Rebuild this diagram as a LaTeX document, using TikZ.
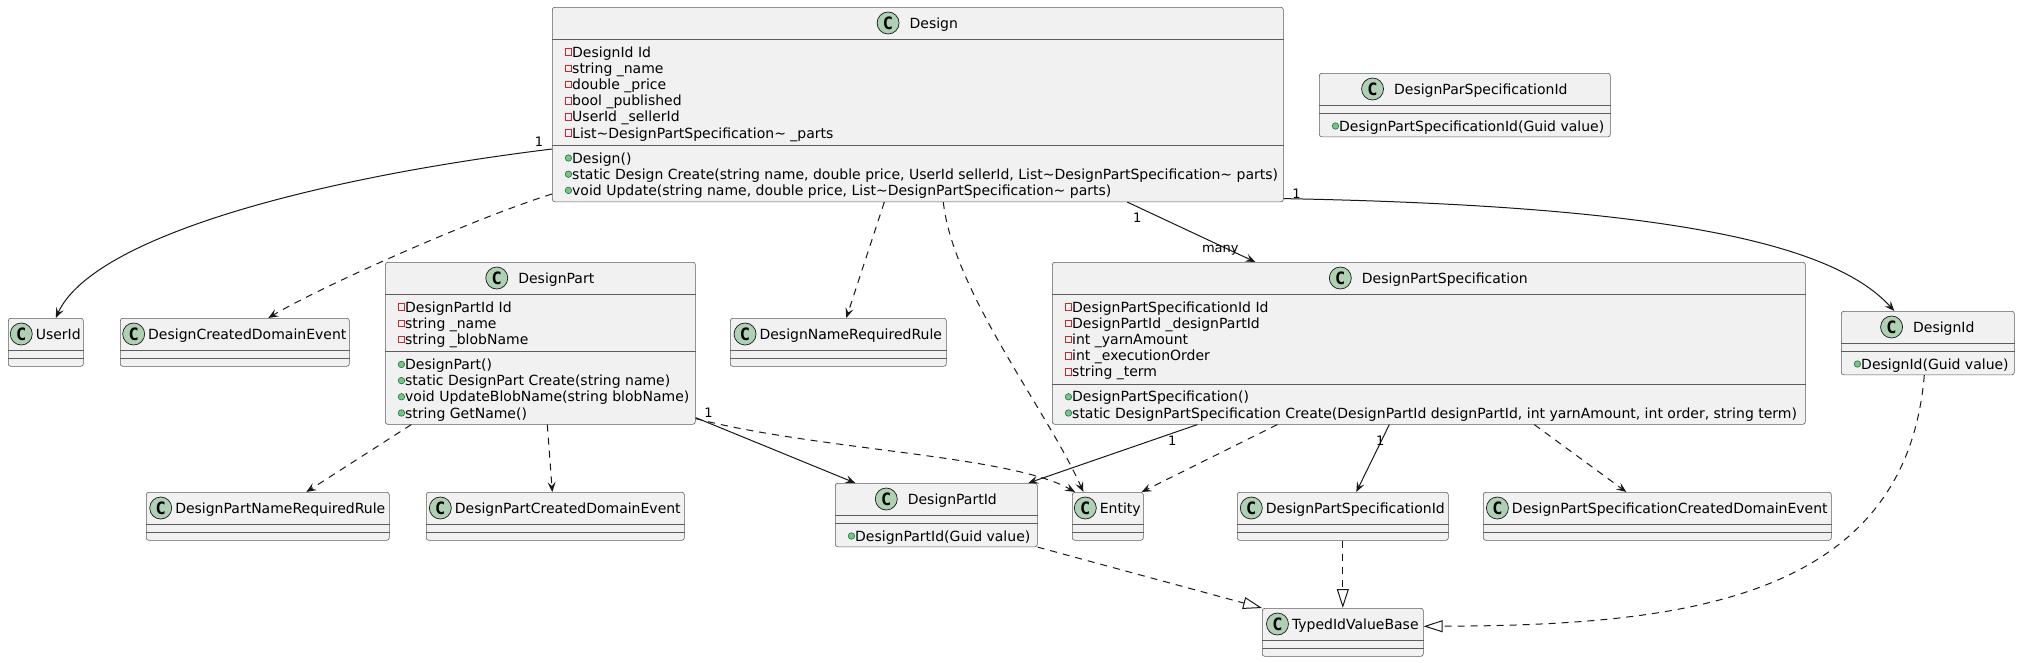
\documentclass[tikz,border=0pt]{standalone}
\usepackage{fontspec}
\setmainfont{DejaVu Sans}
\newfontfamily\iconfont{DejaVu Sans Mono}
\usetikzlibrary{positioning, arrows.meta}

\definecolor{boxfill}{HTML}{F1F1F1}
\definecolor{boxline}{HTML}{181818}
\definecolor{iconfill}{HTML}{ADD1B2}
\definecolor{privred}{HTML}{C82930}
\definecolor{pubfill}{HTML}{84BE84}
\definecolor{pubedge}{HTML}{038048}

\tikzset{
	umlpicture/.style = {
		x = 1pt, y = -1pt,
		font = \fontsize{14}{16}\selectfont,
		arrow/.style = {
			draw = boxline,
			line width = 1pt,
			-{Stealth[length = 10pt, width = 8pt, inset = 4pt]}
		},
		dependency/.style = {
			arrow,
			dash pattern = on 7pt off 6pt
		},
		realize/.style = {
			draw = boxline,
			line width = 1pt,
			dash pattern = on 7pt off 6pt,
			-{Triangle[open, length = 19pt, width = 12pt]}
		}
	},
	classbox/.style = {
		rectangle,
		rounded corners = 2.5pt,
		draw = boxline!70,
		line width = 0.6pt,
		fill = boxfill,
		inner sep = 0pt,
		anchor = north west
	},
	compline/.style = {
		draw = boxline!70,
		line width = 0.6pt
	},
	classname/.style = {
		inner sep = 0pt,
		text height = 10pt,
		text depth = 0pt
	},
	classicon/.style = {
		circle,
		draw = boxline,
		line width = 0.7pt,
		fill = iconfill,
		minimum size = 22pt,
		inner sep = 0pt,
		font = \iconfont\bfseries\fontsize{17}{17}\selectfont
	},
	member/.style = {
		anchor = west,
		inner sep = 0pt,
		text height = 10pt,
		text depth = 0pt,
		label distance = 6.5pt
	},
	privmark/.style = {
		rectangle,
		draw = privred,
		line width = 0.7pt,
		minimum size = 6.5pt,
		inner sep = 0pt,
		text height = 0pt,
		text depth = 0pt
	},
	pubmark/.style = {
		circle,
		draw = pubedge,
		line width = 0.6pt,
		fill = pubfill,
		minimum size = 6.5pt,
		inner sep = 0pt,
		text height = 0pt,
		text depth = 0pt
	},
	privline/.style = {
		member,
		label = {[privmark]west:{}}
	},
	publine/.style = {
		member,
		label = {[pubmark]west:{}}
	},
	mult/.style = {
		font = \fontsize{13}{13}\selectfont,
		inner sep = 0pt,
		text height = 9.5pt,
		text depth = 0pt
	}
}

\begin{document}
\begin{tikzpicture}[umlpicture]
	\path[use as bounding box, fill = white] (0,0) rectangle (2020,662);

	% class boxes
	\node[classbox, minimum width = 731pt, minimum height = 194.5pt] (design) at (552,7) {};
	\node[classbox, minimum width = 291pt, minimum height = 63.5pt] (parspecid) at (1319,73) {};
	\node[classbox, minimum width = 75pt, minimum height = 48pt] (userid) at (8,318) {};
	\node[classbox, minimum width = 229pt, minimum height = 48pt] (createdevent) at (120,318) {};
	\node[classbox, minimum width = 310pt, minimum height = 162pt] (part) at (385,262) {};
	\node[classbox, minimum width = 216pt, minimum height = 48pt] (namerule) at (730,318) {};
	\node[classbox, minimum width = 753pt, minimum height = 162pt] (spec) at (1052,262) {};
	\node[classbox, minimum width = 173pt, minimum height = 63.5pt] (designid) at (1841,311) {};
	\node[classbox, minimum width = 243pt, minimum height = 48pt] (partnamerule) at (146,492) {};
	\node[classbox, minimum width = 258pt, minimum height = 48pt] (partcreatedevent) at (426,492) {};
	\node[classbox, minimum width = 202pt, minimum height = 63.5pt] (partid) at (835,483) {};
	\node[classbox, minimum width = 71pt, minimum height = 48pt] (entity) at (1072,492) {};
	\node[classbox, minimum width = 211pt, minimum height = 48pt] (specid) at (1237,492) {};
	\node[classbox, minimum width = 348pt, minimum height = 48pt] (speccreatedevent) at (1483,492) {};
	\node[classbox, minimum width = 161pt, minimum height = 48pt] (typedid) at (1262,608) {};

	% compartments
	\foreach \c/\a/\b in {design/32/138, parspecid/32/40, part/32/89.4, spec/32/121.8, designid/32/40, partid/32/40,
		userid/32/40, createdevent/32/40, namerule/32/40, partnamerule/32/40, partcreatedevent/32/40,
		entity/32/40, specid/32/40, speccreatedevent/32/40, typedid/32/40}
		\draw[compline] ([yshift = -\a*1pt]\c.north west) -- ([yshift = -\a*1pt]\c.north east)
			([yshift = -\b*1pt]\c.north west) -- ([yshift = -\b*1pt]\c.north east);

	% titles
	\foreach \c/\t in {design/Design, parspecid/DesignParSpecificationId, part/DesignPart,
		spec/DesignPartSpecification, designid/DesignId, partid/DesignPartId} {
		\node[classname] (\c-name) at ([xshift = 16pt, yshift = -16pt]\c.north) {\t};
		\node[classicon, left = 10pt of \c-name] (\c-icon) {C};
	}
	\foreach \c/\t in {userid/UserId, createdevent/DesignCreatedDomainEvent, namerule/DesignNameRequiredRule,
		partnamerule/DesignPartNameRequiredRule, partcreatedevent/DesignPartCreatedDomainEvent, entity/Entity,
		specid/DesignPartSpecificationId, speccreatedevent/DesignPartSpecificationCreatedDomainEvent,
		typedid/TypedIdValueBase} {
		\node[classname] (\c-name) at ([xshift = 12.5pt, yshift = -16pt]\c.north) {\t};
		\node[classicon, left = 3pt of \c-name] (\c-icon) {C};
	}

	% members
	\foreach \m [count = \i from 0] in {DesignId Id, string \_name, double \_price, bool \_published,
		UserId \_sellerId, List\textasciitilde DesignPartSpecification\textasciitilde{} \_parts}
		\node[privline] (design-a\i) at ([xshift = 20pt, yshift = {-45pt - \i*16.2pt}]design.north west) {\m};
	\foreach \m [count = \i from 0] in {Design(),
		{static Design Create(string name, double price, UserId sellerId, List\textasciitilde DesignPartSpecification\textasciitilde{} parts)},
		{void Update(string name, double price, List\textasciitilde DesignPartSpecification\textasciitilde{} parts)}}
		\node[publine] (design-m\i) at ([xshift = 20pt, yshift = {-151pt - \i*16.2pt}]design.north west) {\m};
	\node[publine] (parspecid-m0) at ([xshift = 20pt, yshift = -53pt]parspecid.north west) {DesignPartSpecificationId(Guid value)};
	\foreach \m [count = \i from 0] in {DesignPartId Id, string \_name, string \_blobName}
		\node[privline] (part-a\i) at ([xshift = 20pt, yshift = {-45pt - \i*16.2pt}]part.north west) {\m};
	\foreach \m [count = \i from 0] in {DesignPart(), static DesignPart Create(string name),
		void UpdateBlobName(string blobName), string GetName()}
		\node[publine] (part-m\i) at ([xshift = 20pt, yshift = {-102.4pt - \i*16.2pt}]part.north west) {\m};
	\foreach \m [count = \i from 0] in {DesignPartSpecificationId Id, DesignPartId \_designPartId,
		int \_yarnAmount, int \_executionOrder, string \_term}
		\node[privline] (spec-a\i) at ([xshift = 20pt, yshift = {-45pt - \i*16.2pt}]spec.north west) {\m};
	\foreach \m [count = \i from 0] in {DesignPartSpecification(),
		{static DesignPartSpecification Create(DesignPartId designPartId, int yarnAmount, int order, string term)}}
		\node[publine] (spec-m\i) at ([xshift = 20pt, yshift = {-134.8pt - \i*16.2pt}]spec.north west) {\m};
	\node[publine] (designid-m0) at ([xshift = 20pt, yshift = -53pt]designid.north west) {DesignId(Guid value)};
	\node[publine] (partid-m0) at ([xshift = 20pt, yshift = -53pt]partid.north west) {DesignPartId(Guid value)};

	% relations of Design
	\path[arrow] ([yshift = -142pt]design.north west) node[mult, xshift = -13pt, yshift = 7pt] (design-userid) {1}
		.. controls +(-252,31) and +(35,-78) .. ([xshift = 10pt]userid.north);
	\path[dependency] ([yshift = -187pt]design.north west)
		.. controls +(-80,25) and +(50,-30) .. ([xshift = 33.5pt]createdevent.north);
	\path[arrow] ([xshift = 209.5pt]design.south) --
		node[mult, pos = 0, xshift = 10pt, yshift = -16pt] (design-spec) {1}
		node[mult, pos = 1, xshift = -35pt, yshift = 14pt] (spec-many) {many}
		([xshift = -173.5pt]spec.north);
	\path[arrow] ([yshift = 3.5pt]design.south east) node[mult, xshift = 13pt, yshift = 5pt] (design-designid) {1}
		.. controls +(367,7) and +(-64,-71) .. ([xshift = -33.5pt]designid.north);
	\path[dependency] ([xshift = -33.5pt]design.south) -- ([xshift = 8pt]namerule.north);
	\path[dependency] ([xshift = 25.5pt]design.south)
		.. controls +(10,90) and +(-35,-80) .. ([xshift = -24.5pt]entity.north);

	% relations of DesignPart
	\path[arrow] ([yshift = 7pt]part.south east) node[mult, xshift = 13pt, yshift = 5pt] (part-partid) {1}
		-- ([xshift = -81pt]partid.north);
	\path[dependency] ([yshift = 6pt]part.south east)
		.. controls +(125,32) and +(-65,-37) .. ([xshift = 3pt]entity.north west);
	\path[dependency] ([xshift = -129pt]part.south) -- ([xshift = 38.5pt]partnamerule.north);
	\path[dependency] ([xshift = 7pt]part.south) -- ([xshift = -3pt]partcreatedevent.north);

	% relations of DesignPartSpecification
	\path[arrow] ([xshift = -231.5pt]spec.south) node[mult, xshift = -25pt, yshift = -16pt] (spec-partid) {1}
		-- ([xshift = 92pt]partid.north);
	\path[dependency] ([xshift = -151.5pt]spec.south) -- ([xshift = -2pt]entity.north east);
	\path[arrow] ([xshift = -39.5pt]spec.south) node[mult, xshift = -9pt, yshift = -16pt] (spec-specid) {1}
		-- ([xshift = 13.5pt]specid.north);
	\path[dependency] ([xshift = 105.5pt]spec.south) -- ([xshift = -31pt]speccreatedevent.north);

	% TypedIdValueBase
	\path[realize] (partid.south east) -- (typedid.north west);
	\path[realize] (specid.south) -- (typedid.north);
	\path[realize] ([xshift = -3.5pt]designid.south)
		.. controls +(-19,226) and +(257,-1) .. ([yshift = 6pt]typedid.east);
\end{tikzpicture}
\end{document}
